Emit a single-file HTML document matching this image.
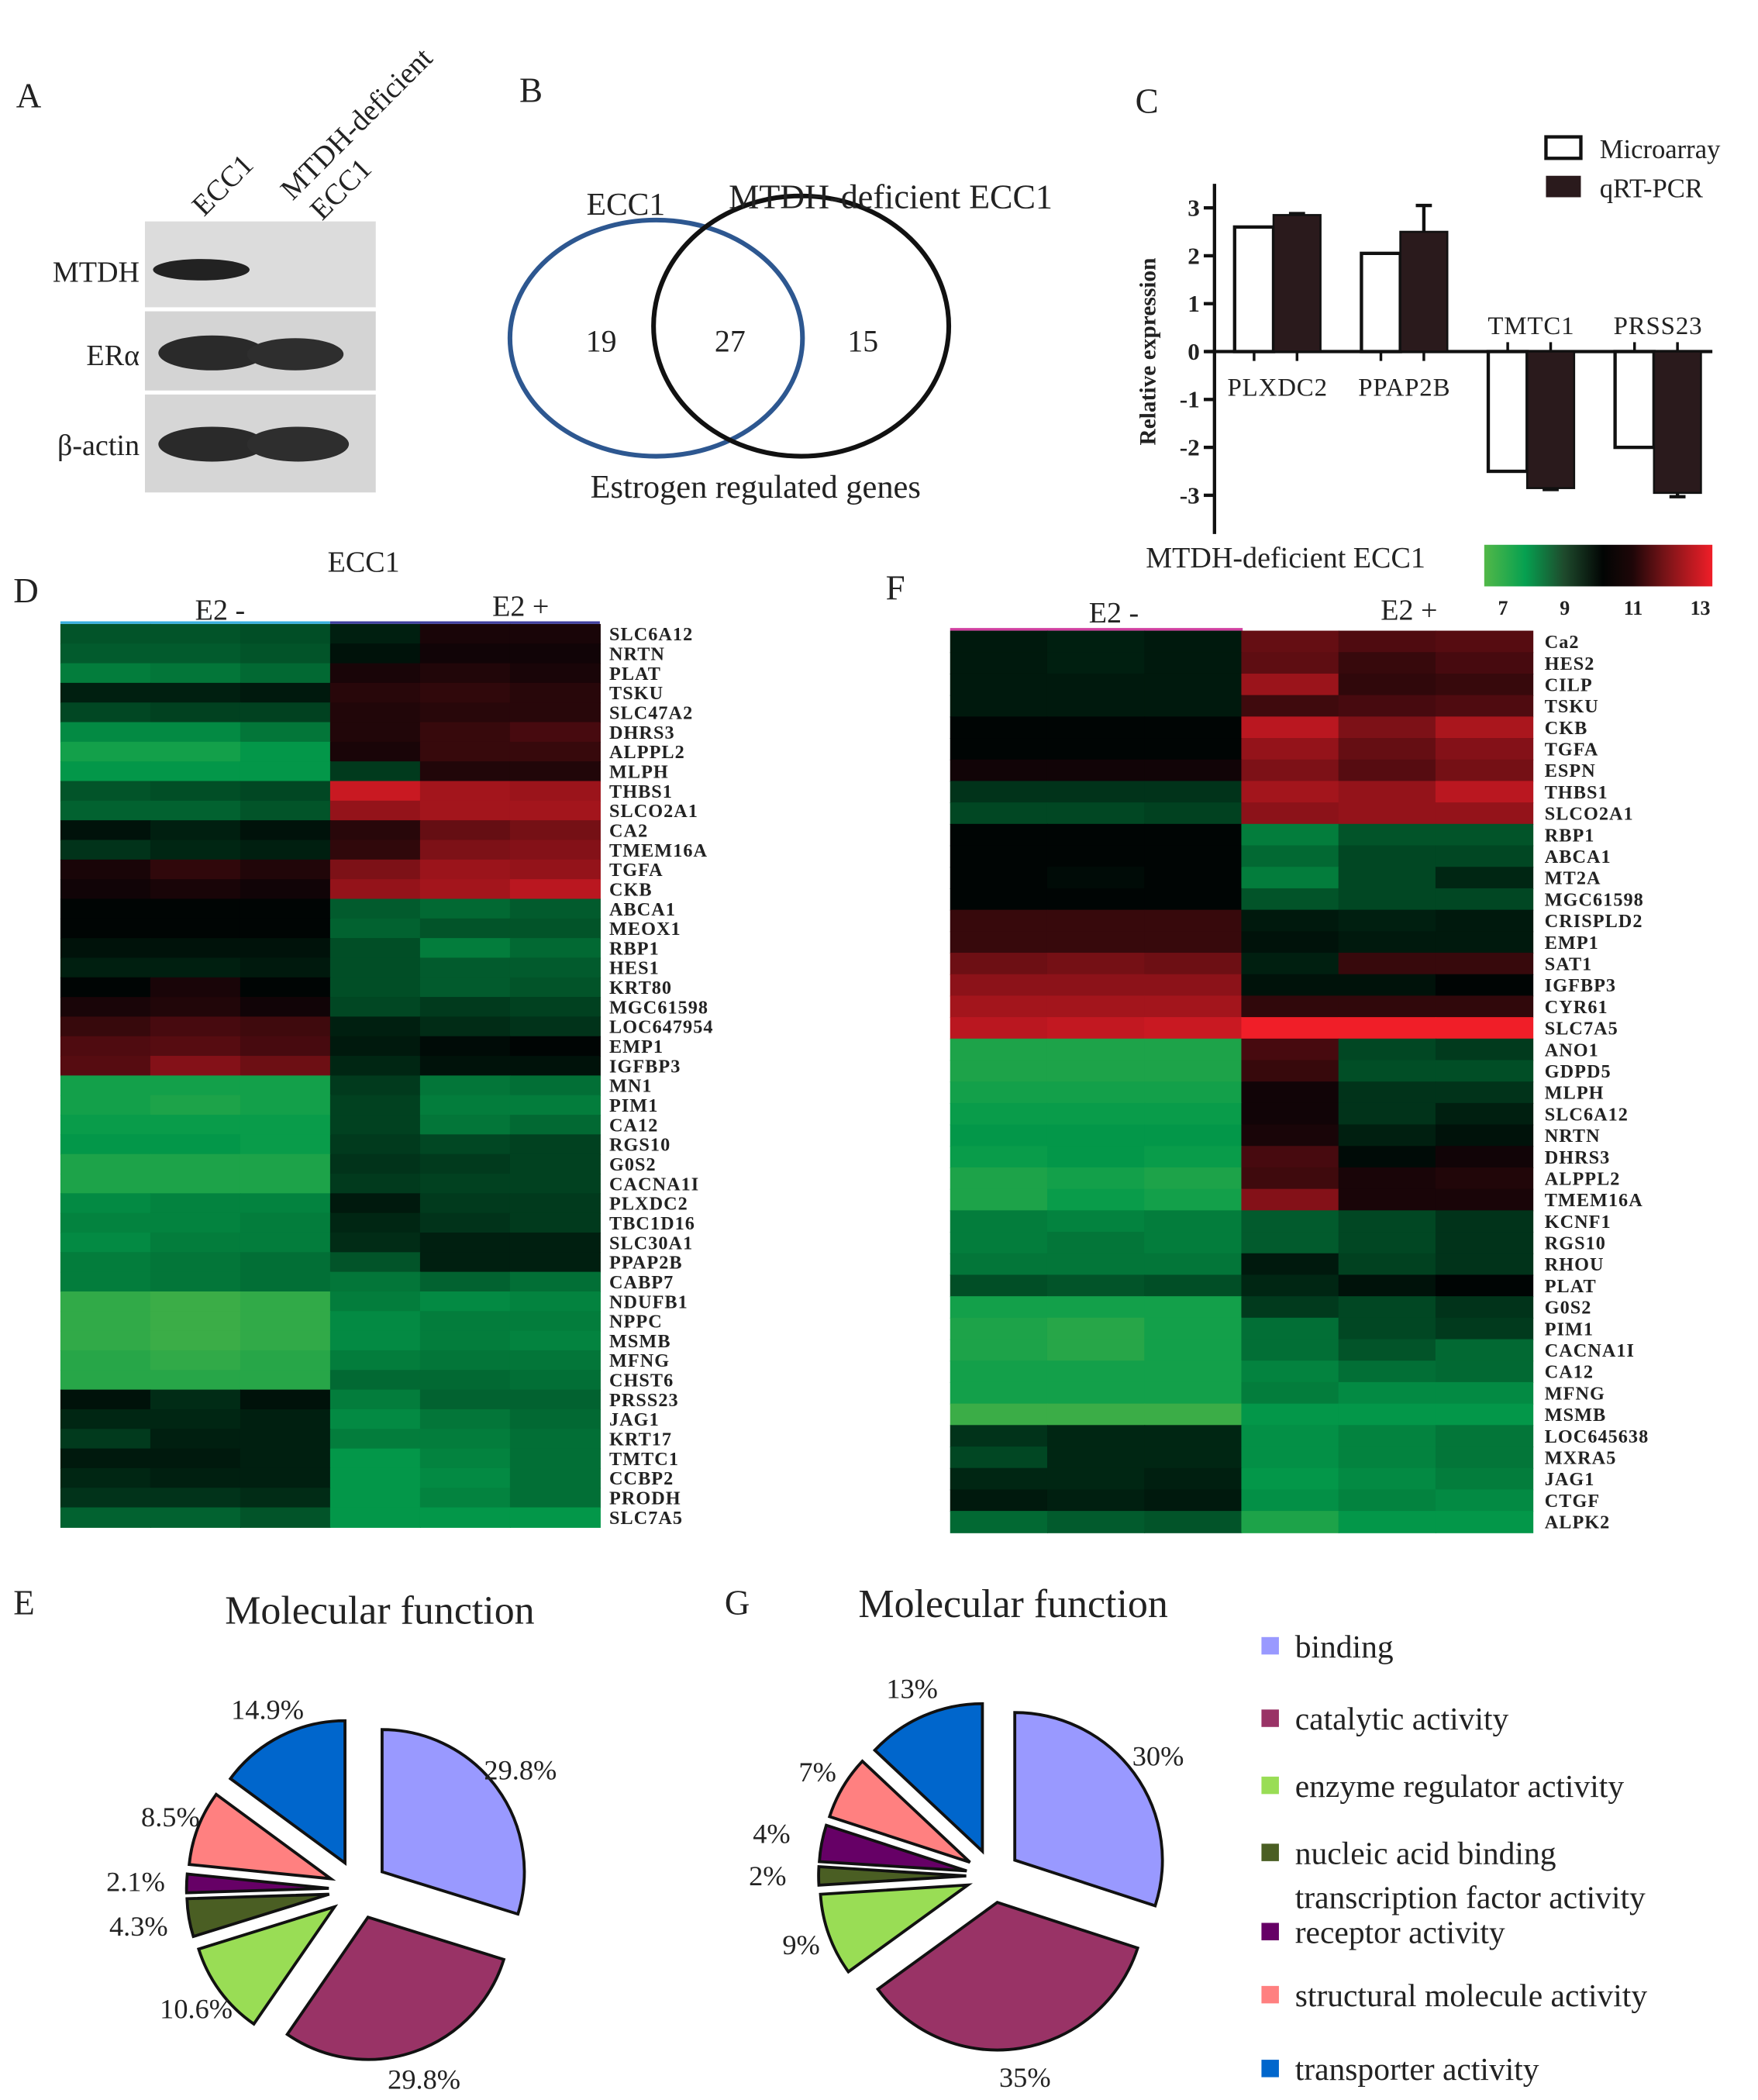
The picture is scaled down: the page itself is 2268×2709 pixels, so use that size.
<!DOCTYPE html>
<html><head><meta charset="utf-8"><style>
html,body{margin:0;padding:0;background:#fff}
svg{display:block}
text{font-family:"Liberation Serif",serif;fill:#222}
.g{font-weight:bold;font-size:14px;letter-spacing:0.6px}
</style></head><body>
<svg id="fig" width="2268" height="2709" viewBox="0 0 1310 1565" preserveAspectRatio="none" xmlns="http://www.w3.org/2000/svg">
<!-- Panel A -->
<g>
<text x="12" y="80" font-size="26">A</text>
<text transform="translate(152,162) rotate(-45)" font-size="22">ECC1</text>
<text transform="translate(218,150) rotate(-45)" font-size="22">MTDH-deficient</text>
<text transform="translate(240,165) rotate(-45)" font-size="22">ECC1</text>
<rect x="108" y="165" width="172" height="64" fill="#dcdcdc"/>
<rect x="108" y="232" width="172" height="59" fill="#d4d4d4"/>
<rect x="108" y="294" width="172" height="73" fill="#d6d6d6"/>
<ellipse cx="150" cy="201" rx="36" ry="8" fill="#222"/>
<ellipse cx="158" cy="263" rx="40" ry="13" fill="#2a2a2a"/>
<ellipse cx="220" cy="264" rx="36" ry="12" fill="#2e2e2e"/>
<ellipse cx="158" cy="331" rx="40" ry="13" fill="#2a2a2a"/>
<ellipse cx="222" cy="331" rx="38" ry="13" fill="#2e2e2e"/>
<text x="104" y="210" font-size="22" text-anchor="end">MTDH</text>
<text x="104" y="272" font-size="22" text-anchor="end">ERα</text>
<text x="104" y="339" font-size="22" text-anchor="end">β-actin</text>
</g>
<!-- Panel B -->
<g>
<text x="387" y="76" font-size="26">B</text>
<ellipse cx="489" cy="252" rx="109" ry="88" fill="none" stroke="#2d5790" stroke-width="3.5"/>
<ellipse cx="597" cy="243" rx="110" ry="97" fill="none" stroke="#111" stroke-width="3.5"/>
<text x="437" y="160" font-size="24">ECC1</text>
<text x="543" y="155" font-size="25.5">MTDH-deficient ECC1</text>
<text x="448" y="262" font-size="23" text-anchor="middle">19</text>
<text x="544" y="262" font-size="23" text-anchor="middle">27</text>
<text x="643" y="262" font-size="23" text-anchor="middle">15</text>
<text x="563" y="371" font-size="24.5" text-anchor="middle">Estrogen regulated genes</text>
</g>
<!-- Panel C -->
<g id="barC">
<text x="846" y="84" font-size="26">C</text>
<rect x="1152" y="102" width="26" height="16" fill="#fff" stroke="#111" stroke-width="2.5"/>
<text x="1192" y="118" font-size="20">Microarray</text>
<rect x="1152" y="131" width="26" height="16" fill="#2a1a1c"/>
<text x="1192" y="147" font-size="20">qRT-PCR</text>
<text transform="translate(861,262) rotate(-90)" font-size="17" font-weight="bold" text-anchor="middle">Relative expression</text>
</g>
<!-- heatmap titles -->
<text x="271" y="426" font-size="22" text-anchor="middle">ECC1</text>
<text x="10" y="449" font-size="26">D</text>
<text x="164" y="462" font-size="22" text-anchor="middle">E2 -</text>
<text x="388" y="459" font-size="22" text-anchor="middle">E2 +</text>
<line x1="45" y1="464" x2="246" y2="464" stroke="#3ab0e0" stroke-width="2"/>
<line x1="246" y1="464" x2="447" y2="464" stroke="#4040a0" stroke-width="2"/>
<text x="958" y="423" font-size="22" text-anchor="middle">MTDH-deficient ECC1</text>
<text x="660" y="447" font-size="26">F</text>
<text x="830" y="464" font-size="22" text-anchor="middle">E2 -</text>
<text x="1050" y="462" font-size="22" text-anchor="middle">E2 +</text>
<line x1="708" y1="469" x2="926" y2="469" stroke="#d040a0" stroke-width="2"/>
<defs><linearGradient id="cb" x1="0" x2="1" y1="0" y2="0">
<stop offset="0" stop-color="#52b848"/><stop offset="0.18" stop-color="#06a050"/><stop offset="0.35" stop-color="#1e4a2c"/><stop offset="0.52" stop-color="#020504"/><stop offset="0.65" stop-color="#1e0608"/><stop offset="0.8" stop-color="#7c1418"/><stop offset="1" stop-color="#f01e28"/></linearGradient></defs>
<rect x="1106" y="406" width="170" height="31" fill="url(#cb)"/>
<text x="1120" y="458" font-size="15" font-weight="bold" text-anchor="middle">7</text>
<text x="1166" y="458" font-size="15" font-weight="bold" text-anchor="middle">9</text>
<text x="1217" y="458" font-size="15" font-weight="bold" text-anchor="middle">11</text>
<text x="1267" y="458" font-size="15" font-weight="bold" text-anchor="middle">13</text>
<g id="hmD"></g>
<g id="hmF"></g>
<!-- Pies -->
<text x="10" y="1203" font-size="26">E</text>
<text x="283" y="1210" font-size="30" text-anchor="middle">Molecular function</text>
<text x="540" y="1203" font-size="26">G</text>
<text x="755" y="1205" font-size="30" text-anchor="middle">Molecular function</text>
<g id="pieE"></g>
<g id="pieG"></g>
<g id="legend"></g>
</svg>
<script>
const NS="http://www.w3.org/2000/svg";
function mk(tag,attrs,parent){const e=document.createElementNS(NS,tag);for(const k in attrs)e.setAttribute(k,attrs[k]);parent.appendChild(e);return e;}

// ---------- Bar chart C ----------
const barGenes=["PLXDC2","PPAP2B","TMTC1","PRSS23"];
const microarray=[2.6,2.05,-2.5,-2.0];
const qpcr=[2.85,2.5,-2.85,-2.95];
const qpcrErr=[0.03,0.55,0.03,0.08];
const yTicks=[3,2,1,0,-1,-2,-3];
(function(){
  const g=document.getElementById('barC');
  const x0=905,y0=262,k=35.7;
  const Y=v=>y0-v*k;
  let l=mk('line',{x1:x0,y1:137,x2:x0,y2:398,stroke:'#111','stroke-width':2.5},g);
  
  
  l=mk('line',{x1:x0-7,y1:y0,x2:1276,y2:y0,stroke:'#111','stroke-width':2.5},g);
  
  
  yTicks.forEach(t=>{
    const tk=mk('line',{x1:x0-8,y1:Y(t),x2:x0,y2:Y(t),stroke:'#111','stroke-width':2.5},g);
    
    
    const tx=mk('text',{x:x0-11,y:Y(t)+6,'font-size':18,'font-weight':'bold','text-anchor':'end'},g);tx.textContent=t;
    
    
  });
  const groupX=i=>920+i*94.5, bw=29, qw=35;
  barGenes.forEach((gn,i)=>{
    const gx=groupX(i);
    const m=microarray[i], q=qpcr[i];
    const r1=mk('rect',{x:gx,y:Math.min(Y(m),y0),width:bw,height:Math.abs(m*k),fill:'#fff',stroke:'#111','stroke-width':2.5},g);
    
    
    const r2=mk('rect',{x:gx+bw,y:Math.min(Y(q),y0),width:qw,height:Math.abs(q*k),fill:'#2a1a1c',stroke:'#111','stroke-width':1.5},g);
    
    
    const s=q>=0?1:-1, cx=gx+bw+qw/2;
    const e=mk('path',{d:`M${cx} ${Y(q)} L${cx} ${Y(q+s*qpcrErr[i])} M${cx-6} ${Y(q+s*qpcrErr[i])} L${cx+6} ${Y(q+s*qpcrErr[i])}`,stroke:'#111','stroke-width':2.5,fill:'none'},g);
    
    
    [gx+bw/2,cx].forEach(tx=>{
      const tm=mk('line',{x1:tx,y1:y0,x2:tx,y2:m>=0?y0+7:y0-7,stroke:'#111','stroke-width':2},g);
      
      
    });
    const lb=mk('text',{x:gx+bw+3,y:m>=0?y0+33:y0-13,'font-size':19,'text-anchor':'middle','letter-spacing':'0.5'},g);lb.textContent=gn;
    
    
  });
})();

// ---------- Heatmaps ----------
function col(v){
  if(v<=10){const t=Math.min(1,(10-v)/3);
    let r,gg,b;
    if(t<0.75){const u=t/0.75;r=4*u;gg=5+150*u;b=4+71*u;}else{const u=(t-0.75)/0.25;r=4+76*u;gg=155+25*u;b=75-5*u;}
    return `rgb(${r|0},${gg|0},${b|0})`;}
  const t=Math.min(1,(v-10)/3);
  return `rgb(${(10+230*t)|0},${(4+26*t)|0},${(6+34*t)|0})`;
}
const genesD=["SLC6A12","NRTN","PLAT","TSKU","SLC47A2","DHRS3","ALPPL2","MLPH","THBS1","SLCO2A1","CA2","TMEM16A","TGFA","CKB","ABCA1","MEOX1","RBP1","HES1","KRT80","MGC61598","LOC647954","EMP1","IGFBP3","MN1","PIM1","CA12","RGS10","G0S2","CACNA1I","PLXDC2","TBC1D16","SLC30A1","PPAP2B","CABP7","NDUFB1","NPPC","MSMB","MFNG","CHST6","PRSS23","JAG1","KRT17","TMTC1","CCBP2","PRODH","SLC7A5"];
const e2MinusD=[[8.8,8.8,8.9],[8.7,8.7,8.8],[8.2,8.3,8.5],[9.6,9.6,9.7],[9,9.1,9.1],[8,8,8.3],[7.6,7.6,7.8],[7.8,7.8,7.8],[8.8,8.9,9],[8.6,8.6,8.8],[9.8,9.6,9.8],[9.3,9.5,9.6],[10.2,10.5,10.3],[10.1,10.2,10.1],[10,10,10],[10,10,10],[9.8,9.8,9.8],[9.6,9.6,9.7],[10,10.2,10],[10.2,10.3,10.1],[10.6,10.8,10.7],[10.9,11,10.8],[11,11.6,11.3],[7.6,7.6,7.6],[7.6,7.5,7.6],[7.7,7.7,7.7],[7.8,7.8,7.7],[7.5,7.5,7.5],[7.5,7.5,7.5],[8,8.1,8.1],[8.1,8.1,8.2],[8,8.2,8.2],[8.2,8.3,8.4],[8.2,8.3,8.4],[7.3,7.2,7.3],[7.3,7.2,7.3],[7.3,7.2,7.3],[7.4,7.3,7.4],[7.4,7.4,7.4],[9.8,9.4,9.8],[9.5,9.5,9.6],[9.2,9.6,9.6],[9.7,9.7,9.6],[9.5,9.6,9.6],[9.3,9.3,9.4],[8.6,8.6,8.8]];
const e2PlusD=[[9.6,10.2,10.2],[9.8,10.1,10.1],[10.2,10.3,10.2],[10.4,10.5,10.4],[10.3,10.4,10.4],[10.3,10.6,10.8],[10.2,10.6,10.6],[9.2,10.3,10.3],[12.5,12,11.9],[11.8,12,12],[10.4,11.2,11.4],[10.5,11.5,11.6],[11.5,11.9,11.8],[11.8,12,12.3],[8.7,8.5,8.7],[8.6,8.8,8.8],[8.9,8.2,8.5],[8.9,8.7,8.7],[8.9,8.7,8.8],[9,9.2,9.1],[9.6,9.4,9.3],[9.7,9.9,10],[9.5,9.8,9.8],[9.2,8.3,8.4],[9.1,8.2,8.2],[9.1,8.3,8.5],[9.2,9,9.1],[9.3,9.2,9.1],[9.2,9.1,9.1],[9.7,9.2,9.2],[9.5,9.3,9.2],[9.4,9.6,9.6],[8.8,9.6,9.6],[8.3,8.6,8.4],[8.2,8,8.1],[8,8.2,8.2],[8,8.2,8.1],[8.2,8.3,8.3],[8.5,8.5,8.4],[8.2,8.6,8.6],[8,8.3,8.5],[8.2,8.2,8.4],[7.8,8.1,8.4],[7.8,8,8.4],[7.8,8.1,8.4],[7.8,7.8,7.8]];
const genesF=["Ca2","HES2","CILP","TSKU","CKB","TGFA","ESPN","THBS1","SLCO2A1","RBP1","ABCA1","MT2A","MGC61598","CRISPLD2","EMP1","SAT1","IGFBP3","CYR61","SLC7A5","ANO1","GDPD5","MLPH","SLC6A12","NRTN","DHRS3","ALPPL2","TMEM16A","KCNF1","RGS10","RHOU","PLAT","G0S2","PIM1","CACNA1I","CA12","MFNG","MSMB","LOC645638","MXRA5","JAG1","CTGF","ALPK2"];
const e2MinusF=[[9.7,9.6,9.7],[9.7,9.6,9.7],[9.7,9.7,9.7],[9.7,9.7,9.7],[10,10,10],[10,10,10],[10.1,10.1,10.1],[9.3,9.3,9.3],[9,9,9.1],[10,10,10],[10,10,10],[10,9.9,10],[10,10,10],[10.6,10.6,10.6],[10.6,10.6,10.6],[11.3,11.4,11.3],[11.7,11.7,11.7],[12,12,12],[12.3,12.4,12.5],[7.5,7.5,7.5],[7.5,7.5,7.5],[7.6,7.6,7.6],[7.7,7.7,7.7],[7.8,7.8,7.8],[7.7,7.8,7.7],[7.5,7.6,7.5],[7.5,7.7,7.6],[8.2,8.1,8.2],[8.2,8.3,8.2],[8.3,8.3,8.3],[8.9,8.8,8.9],[7.6,7.6,7.6],[7.5,7.4,7.6],[7.5,7.4,7.6],[7.6,7.6,7.6],[7.6,7.6,7.6],[7.2,7.2,7.2],[9.3,9.5,9.5],[9,9.5,9.5],[9.5,9.5,9.6],[9.7,9.6,9.7],[8.5,8.7,8.8]];
const e2PlusF=[[11.2,10.9,11],[11.1,10.6,10.8],[11.9,10.5,10.6],[10.7,10.8,10.9],[12.3,11.5,12.1],[11.8,11.2,11.6],[11.5,11,11.4],[12,11.8,12.3],[11.7,11.8,11.8],[8.2,8.8,8.8],[8.5,9,9],[8.2,9,9.5],[8.8,9,9],[9.7,9.6,9.7],[9.8,9.7,9.7],[9.6,10.6,10.6],[9.8,9.8,10],[10.5,10.5,10.5],[13,13,13],[10.8,9,9.2],[10.6,8.9,8.9],[10.1,9.3,9.3],[10.1,9.3,9.6],[10.2,9.6,9.8],[10.8,9.9,10.1],[10.7,10.2,10.3],[11.6,10.2,10.2],[8.7,9,9.3],[8.7,9,9.3],[9.7,9.1,9.3],[9.5,9.8,10],[9.2,9,9.3],[8.4,9,9.2],[8.4,8.8,8.5],[8.1,8.4,8.5],[8.2,8,8],[7.8,7.8,7.8],[7.9,8.1,8.3],[7.9,8.1,8.3],[7.8,8,8.2],[7.9,8.1,8],[7.5,7.8,7.8]];
function heat(id,genes,minus,plus,x0,x1,y0,y1,labX,lbl){
  const g=document.getElementById(id);
  const n=genes.length,rh=(y1-y0)/n,cw=(x1-x0)/6;
  genes.forEach((gn,i)=>{
    const vals=minus[i].concat(plus[i]);
    vals.forEach((v,j)=>{
      const r=mk('rect',{x:x0+j*cw,y:y0+i*rh,width:cw+0.6,height:rh+0.6,fill:col(v)},g);
      
      
    });
    const t=mk('text',{x:labX,y:y0+i*rh+rh*0.5+5,class:'g','font-size':lbl},g);t.textContent=gn;
    
    
  });
}
heat('hmD',genesD,e2MinusD,e2PlusD,45,447,465,1138,454,14.5);
heat('hmF',genesF,e2MinusF,e2PlusF,708,1142,470,1142,1151,15);

// ---------- Pies ----------
const pieLabels=["binding","catalytic activity","enzyme regulator activity","nucleic acid binding transcription factor activity","receptor activity","structural molecule activity","transporter activity"];
const pieE=[29.8,29.8,10.6,4.3,2.1,8.5,14.9];
const pieG=[30,35,9,2,4,7,13];
const pieColors=["#9999ff","#993366","#99dd55","#4a5e23","#660066","#ff8080","#0066cc"];
function pie(id,vals,cx,cy,R,ex,labs){
  const g=document.getElementById(id);
  const tot=vals.reduce((a,b)=>a+b,0);let a=0;
  vals.forEach((v,i)=>{
    const a0=a/tot*2*Math.PI,a1=(a+v)/tot*2*Math.PI;a+=v;
    const m=(a0+a1)/2,ox=cx+ex*Math.sin(m),oy=cy-ex*Math.cos(m);
    const p=(t)=>[ox+R*Math.sin(t),oy-R*Math.cos(t)];
    const s=p(a0),e=p(a1);
    const d=`M${ox} ${oy} L${s[0]} ${s[1]} A${R} ${R} 0 ${a1-a0>Math.PI?1:0} 1 ${e[0]} ${e[1]} Z`;
    const sl=mk('path',{d:d,fill:pieColors[i],stroke:'#111','stroke-width':2.2},g);
    
    
    const lr=R+ex+(v<6?38:22);
    const t=mk('text',{x:cx+lr*Math.sin(m),y:cy-lr*Math.cos(m)+7,'font-size':21,'text-anchor':'middle'},g);
    t.textContent=labs[i];
    
    
  });
}
pie('pieE',pieE,267,1408,106,22,pieE.map(v=>v+'%'));
pie('pieG',pieG,740,1398,110,20,pieG.map(v=>v+'%'));
(function(){
  const g=document.getElementById('legend');
  const ys=[1228,1282,1332,1382,1441,1488,1543];
  pieLabels.forEach((lb,i)=>{
    const r=mk('rect',{x:940,y:ys[i]-8,width:13,height:13,fill:pieColors[i]},g);
    
    
    const t=mk('text',{x:965,y:ys[i]+7,'font-size':24},g);
    
    
    if(i===3){t.textContent='nucleic acid binding';const t2=mk('text',{x:965,y:ys[i]+40,'font-size':24},g);t2.textContent='transcription factor activity';
      
      }
    else t.textContent=lb;
  });
})();
</script>
</body></html>
